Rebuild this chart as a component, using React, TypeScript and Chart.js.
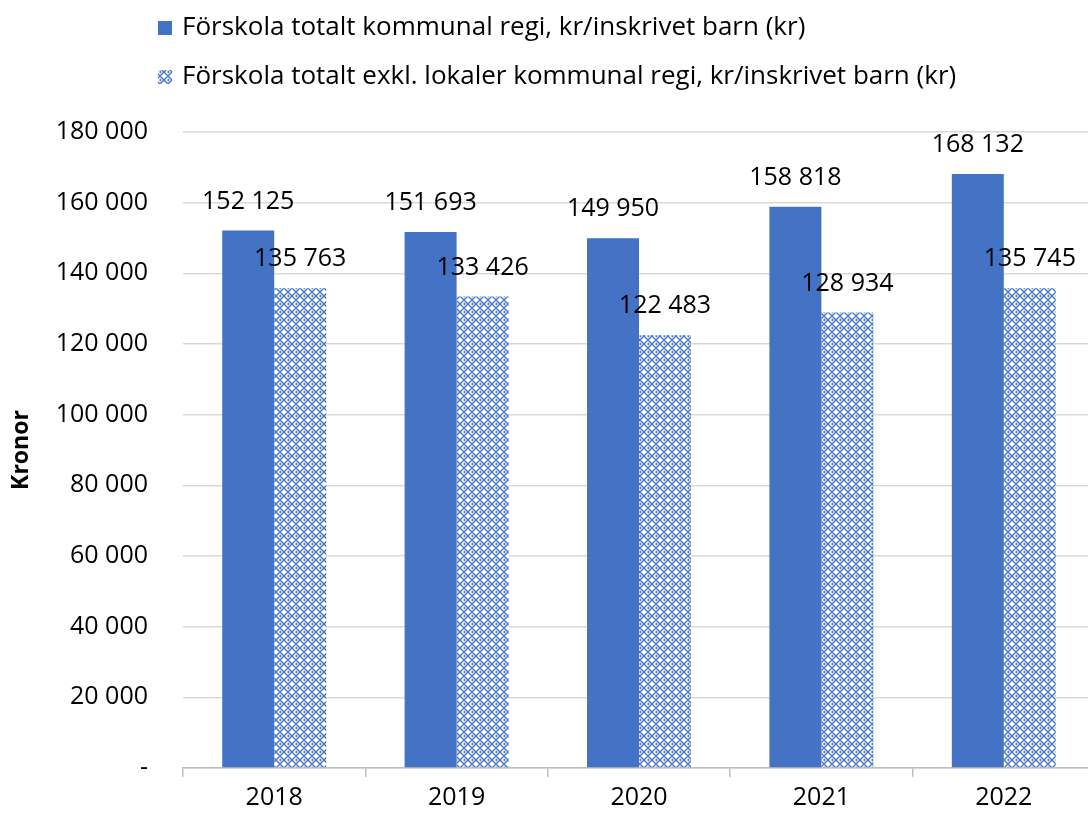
import React, { useEffect, useRef } from "react";
import { Chart, registerables } from "chart.js";

Chart.register(...registerables);

const categories = ["2018", "2019", "2020", "2021", "2022"];
const totalValues = [152125, 151693, 149950, 158818, 168132];
const exclValues = [135763, 133426, 122483, 128934, 135745];
const seriesNames = [
  "Förskola totalt kommunal regi, kr/inskrivet barn (kr)",
  "Förskola totalt exkl. lokaler kommunal regi, kr/inskrivet barn (kr)",
];
const yTitle = "Kronor";

const BLUE = "#4472C4";
const FONT = "'Open Sans', 'Liberation Sans', sans-serif";

function fmt(v: number): string {
  if (v === 0) return "-";
  return Math.round(v)
    .toString()
    .replace(/\B(?=(\d{3})+(?!\d))/g, " ");
}

function makePattern(): CanvasPattern | string {
  const c = document.createElement("canvas");
  c.width = 8;
  c.height = 8;
  const g = c.getContext("2d");
  if (!g) return BLUE;
  g.fillStyle = "#ffffff";
  g.fillRect(0, 0, 8, 8);
  g.strokeStyle = BLUE;
  g.lineWidth = 1.4;
  g.beginPath();
  g.moveTo(0, 4);
  g.lineTo(4, 0);
  g.lineTo(8, 4);
  g.lineTo(4, 8);
  g.closePath();
  g.stroke();
  g.beginPath();
  g.moveTo(-1, -1);
  g.lineTo(1, 1);
  g.moveTo(7, -1);
  g.lineTo(9, 1);
  g.moveTo(-1, 9);
  g.lineTo(1, 7);
  g.moveTo(7, 9);
  g.lineTo(9, 7);
  g.stroke();
  const p = g.createPattern(c, "repeat");
  return p || BLUE;
}

export default function App() {
  const ref = useRef<HTMLCanvasElement | null>(null);

  useEffect(() => {
    if (!ref.current) return;
    const pattern = makePattern();

    const labelPlugin = {
      id: "valueLabels",
      afterDatasetsDraw(chart: any) {
        const ctx = chart.ctx;
        ctx.save();
        ctx.font = `25px ${FONT}`;
        ctx.fillStyle = "#000";
        ctx.textAlign = "center";
        ctx.textBaseline = "middle";
        chart.data.datasets.forEach((ds: any, di: number) => {
          const meta = chart.getDatasetMeta(di);
          meta.data.forEach((bar: any, i: number) => {
            ctx.fillText(fmt(ds.data[i]), bar.x, bar.y - 29);
          });
        });
        ctx.restore();
      },
    };

    const legendPlugin = {
      id: "customLegend",
      afterDraw(chart: any) {
        const ctx = chart.ctx;
        ctx.save();
        ctx.font = `26px ${FONT}`;
        ctx.textBaseline = "middle";
        ctx.textAlign = "left";
        const rows = [28, 77];
        seriesNames.forEach((name, i) => {
          const y = rows[i];
          ctx.fillStyle = i === 0 ? BLUE : (pattern as any);
          ctx.fillRect(158, y - 7, 14, 14);
          ctx.fillStyle = "#000";
          ctx.fillText(name, 182, y);
        });
        ctx.restore();
      },
    };

    const chart = new Chart(ref.current, {
      type: "bar",
      data: {
        labels: categories,
        datasets: [
          {
            label: seriesNames[0],
            data: totalValues,
            backgroundColor: BLUE,
            borderWidth: 0,
          },
          {
            label: seriesNames[1],
            data: exclValues,
            backgroundColor: pattern as any,
            borderWidth: 0,
          },
        ],
      },
      options: {
        responsive: false,
        animation: false,
        maintainAspectRatio: false,
        layout: { padding: { top: 132, right: 5, left: 0, bottom: 0 } },
        plugins: {
          legend: { display: false },
          tooltip: { enabled: false },
        },
        datasets: {
          bar: { categoryPercentage: 0.57, barPercentage: 1 },
        },
        scales: {
          x: {
            offset: true,
            afterFit(scale: any) {
              scale.height = 49;
            },
            grid: {
              offset: true,
              drawOnChartArea: false,
              drawTicks: true,
              tickLength: 9,
              color: "#bfbfbf",
              lineWidth: 1.5,
            },
            border: { display: true, color: "#bfbfbf", width: 1.5 },
            ticks: {
              color: "#000",
              font: { family: FONT, size: 25 },
              padding: 6,
            },
          },
          y: {
            min: 0,
            max: 180000,
            afterFit(scale: any) {
              scale.width = 183;
            },
            ticks: {
              stepSize: 20000,
              color: "#000",
              font: { family: FONT, size: 25 },
              padding: 35,
              callback: (v: any) => fmt(Number(v)),
            },
            grid: { color: "#d9d9d9", lineWidth: 1.5, drawTicks: false },
            border: { display: false },
            title: {
              display: true,
              text: yTitle,
              color: "#000",
              font: { family: FONT, size: 23, weight: "bold" },
              padding: { top: 8, bottom: 0 },
            },
          },
        },
      },
      plugins: [labelPlugin, legendPlugin],
    });

    return () => chart.destroy();
  }, []);

  return (
    <div style={{ position: "fixed", left: 0, top: 0, width: 1088, height: 818, background: "#fff", overflow: "hidden" }}>
      <canvas ref={ref} width={1100} height={818} style={{ display: "block" }} />
    </div>
  );
}
